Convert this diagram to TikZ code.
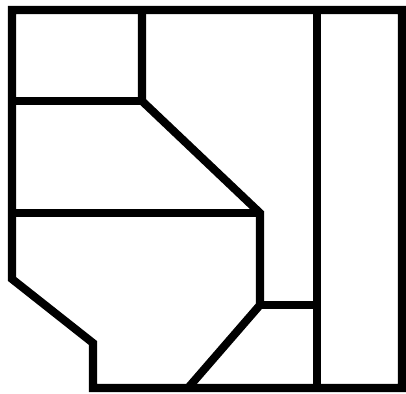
\documentclass[tikz,border=0pt]{standalone}
\usepackage{tikz}
\usetikzlibrary{calc}
\tikzset{
  wall/.style={draw=black, line width=4.6pt, line join=miter},
}
\begin{document}
\begin{tikzpicture}[x=0.02cm, y=-0.02cm]
\useasboundingbox (0,0) rectangle (406,393);
% corner points of the plan
\coordinate (tl) at (12,10);
\coordinate (tr) at (402,10);
\coordinate (br) at (402,388);
\coordinate (bl) at (93,388);
\coordinate (notch) at (93,343);
\coordinate (lk) at (12,279);
\coordinate (midtop) at (142,10);
\coordinate (midknee) at (142,101);
\coordinate (rtop) at (317,10);
\coordinate (rbot) at (317,388);
\coordinate (cross) at (260,213);
\coordinate (step) at (260,305);
\coordinate (foot) at (188,388);
% outer wall
\draw[wall] (tl) -- (tr) -- (br) -- (bl) -- (notch) -- (lk) -- cycle;
% inner walls
\draw[wall] (midtop) -- (midknee) -- (cross) -- (step) -- (foot);
\draw[wall] (12,101) -- (midknee);
\draw[wall] (12,213) -- (cross);
\draw[wall] (step) -- (rtop |- step);
\draw[wall] (rtop) -- (rbot);
\end{tikzpicture}
\end{document}
